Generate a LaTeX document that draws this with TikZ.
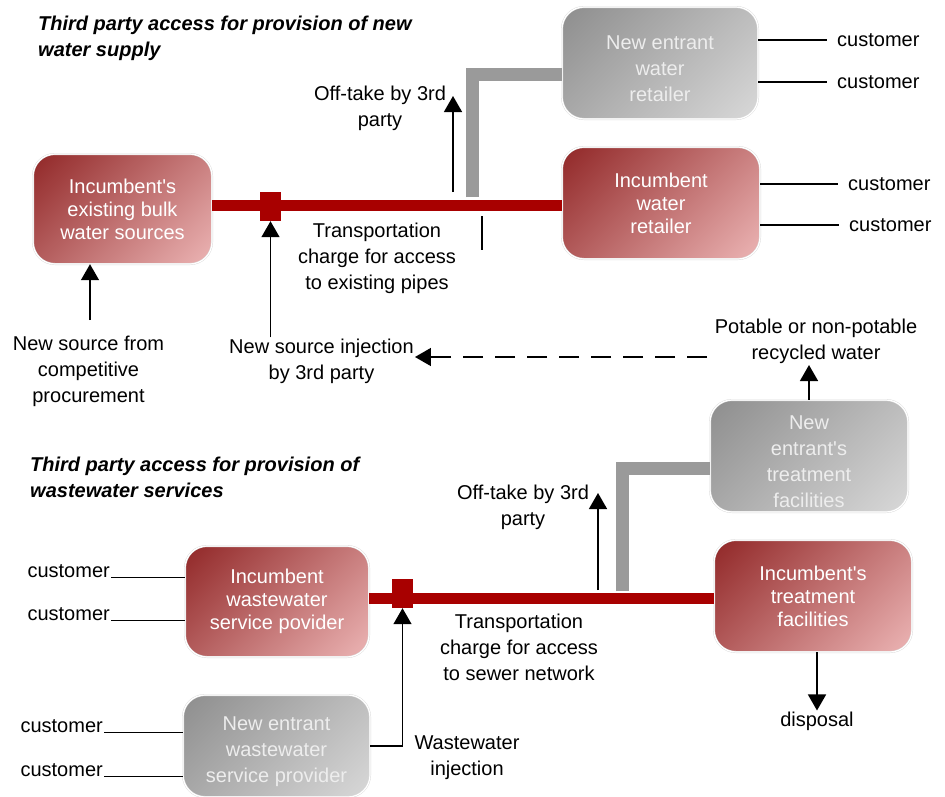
\documentclass[tikz,border=0pt]{standalone}
\usepackage{fontspec}
\setmainfont{Liberation Sans}
\usepackage{xcolor}
\usepackage{tikz}
\usetikzlibrary{arrows.meta, positioning, calc}

\definecolor{pipered}{HTML}{A80000}
\definecolor{pipegray}{HTML}{9A9A9A}
\definecolor{boxreddark}{HTML}{7E0A0A}
\definecolor{boxredlight}{HTML}{FFD2D2}
\definecolor{boxgraydark}{HTML}{7E7E7E}
\definecolor{boxgraylight}{HTML}{E8E8E8}

\pgfdeclarehorizontalshading{redshade}{100bp}{color(0bp)=(boxreddark); color(100bp)=(boxredlight)}
\pgfdeclarehorizontalshading{grayshade}{100bp}{color(0bp)=(boxgraydark); color(100bp)=(boxgraylight)}

% taller first line, drops the text in the grey boxes a little
\newcommand{\topgap}{\rule{0pt}{26pt}}

\begin{document}
\begin{tikzpicture}[
  x=1pt, y=-1pt,
  font=\fontsize{20}{26}\selectfont,
  redbox/.style   = {draw=black!14, double=white, double distance=1.2pt, line width=0.4pt,
                     rounded corners=22pt, shading=redshade, shading angle=-45,
                     text=white, align=center, inner sep=2pt,
                     font=\fontsize{20}{23}\selectfont},
  graybox/.style  = {draw=black!14, double=white, double distance=1.2pt, line width=0.4pt,
                     rounded corners=22pt, shading=grayshade, shading angle=-45,
                     text=white!93!black, align=center, inner sep=2pt,
                     font=\fontsize{20}{26}\selectfont},
  lbl/.style      = {align=center, inner sep=1pt},
  title/.style    = {anchor=west, align=left, inner sep=1pt,
                     font=\fontsize{20}{26}\selectfont\bfseries\itshape},
  cust/.style     = {inner sep=1pt},
  junc/.style     = {fill=pipered, minimum width=21pt, minimum height=29pt, inner sep=0pt},
  redpipe/.style  = {draw=pipered, line width=11pt},
  graypipe/.style = {draw=pipegray, line width=13pt},
  arr/.style      = {-{Triangle[width=18pt,length=16pt]}, line width=1.5pt},
  dasharr/.style  = {arr, dash pattern=on 20pt off 12pt},
  wire/.style     = {line width=1.5pt},
]
\useasboundingbox (0,0) rectangle (945,796);

%% Titles
\node[title] (title1) at (37,38) {Third party access for provision of new\\water supply};
\node[title] (title2) at (29,477) {Third party access for provision of\\wastewater services};

%% Water supply: boxes
\node[redbox, minimum width=179pt, minimum height=110pt] (bulk) at (122.5,209)
     {Incumbent\textquotesingle s\\existing bulk\\water sources};
\node[graybox, minimum width=196pt, minimum height=112pt] (newret) at (660,63)
     {\topgap New entrant\\water\\retailer};
\node[redbox, minimum width=198pt, minimum height=112pt] (incret) at (661,203)
     {Incumbent\\water\\retailer};

%% Water supply: pipes
\coordinate (main1) at (0,205.5);
\coordinate (tap1)  at (472,197);
\node[junc] (junc1) at (270.5,206.5) {};
\draw[redpipe]  (bulk.east |- main1) -- (incret.west |- main1);
\draw[graypipe] (tap1) |- ([yshift=-11pt]newret.west);

%% Water supply: labels
\node[lbl] (off1)   at (380,108.5) {Off-take by 3rd\\party};
\node[lbl] (trans1) at (377,258)   {Transportation\\charge for access\\to existing pipes};
\node[lbl] (newsrc) at (88.5,371)  {New source from\\competitive\\procurement};
\node[lbl] (inj)    at (321.5,361) {New source injection\\by 3rd party};
\node[lbl] (recyc)  at (816,341.5) {Potable or non-potable\\recycled water};

\coordinate (off1base) at (453,192);
\coordinate (off1tip)  at (453,96);
\coordinate (tick1)    at (482,216);
\coordinate (src)      at (90,320);
\coordinate (dash1)    at (707,357);

\draw[arr]     (off1base) -- (off1tip);
\draw[wire]    (tick1) -- ++(0,34);
\draw[arr]     (src) -- (src |- bulk.south);
\draw[arr]     (inj.north -| junc1) -- (junc1.south);
\draw[dasharr] (dash1) -- (dash1 -| inj.east);

%% Water supply: customers
\node[cust, anchor=west] (cb1) at (836,40)  {customer};
\node[cust, anchor=west] (cb2) at (836,82)  {customer};
\node[cust, anchor=west] (cc1) at (847,184) {customer};
\node[cust, anchor=west] (cc2) at (848,225) {customer};
\draw[wire] (newret.east |- cb1.west) -- ([xshift=-9pt]cb1.west);
\draw[wire] (newret.east |- cb2.west) -- ([xshift=-9pt]cb2.west);
\draw[wire] (incret.east |- cc1.west) -- ([xshift=-9pt]cc1.west);
\draw[wire] (incret.east |- cc2.west) -- ([xshift=-9pt]cc2.west);

%% Wastewater: boxes
\node[graybox, minimum width=198pt, minimum height=112pt] (newtreat) at (809,456)
     {\topgap New\\entrant\textquotesingle s\\treatment\\facilities};
\node[redbox, minimum width=184pt, minimum height=111pt] (incww) at (277,601.5)
     {Incumbent\\wastewater\\service povider};
\node[graybox, minimum width=187pt, minimum height=102pt] (newww) at (276.5,746)
     {\topgap New entrant\\wastewater\\service provider};
\node[redbox, minimum width=198pt, minimum height=112pt] (inctreat) at (813,596)
     {Incumbent\textquotesingle s\\treatment\\facilities};

%% Wastewater: pipes
\coordinate (main2) at (0,598);
\coordinate (tap2)  at (622,591);
\node[junc] (junc2) at (402.5,593.5) {};
\draw[redpipe]  (incww.east |- main2) -- (inctreat.west |- main2);
\draw[graypipe] (tap2) |- ([yshift=-12pt]newtreat.west);

%% Wastewater: labels
\node[lbl] (off2)   at (523,507.5) {Off-take by 3rd\\party};
\node[lbl] (trans2) at (519,647.5) {Transportation\\charge for access\\to sewer network};
\node[lbl] (wwinj)  at (467,758)   {Wastewater\\injection};
\node[lbl] (disp)   at (817,721)   {disposal};

\coordinate (off2base) at (598,590);
\coordinate (off2tip)  at (598,493);

\draw[arr] (off2base) -- (off2tip);
\draw[arr] (newtreat.north) -- (newtreat.north |- recyc.south);
\draw[arr] (newww.east) -| (junc2.south);
\draw[arr] (inctreat.south -| disp) -- (disp.north);

%% Wastewater: customers
\node[cust, anchor=east] (ce1) at (111,571) {customer};
\node[cust, anchor=east] (ce2) at (111,614) {customer};
\node[cust, anchor=east] (cf1) at (104,726) {customer};
\node[cust, anchor=east] (cf2) at (104,770) {customer};
\draw[wire] (ce1.base east) -- (ce1.base east -| incww.west);
\draw[wire] (ce2.base east) -- (ce2.base east -| incww.west);
\draw[wire] (cf1.base east) -- (cf1.base east -| newww.west);
\draw[wire] (cf2.base east) -- (cf2.base east -| newww.west);

\end{tikzpicture}
\end{document}
